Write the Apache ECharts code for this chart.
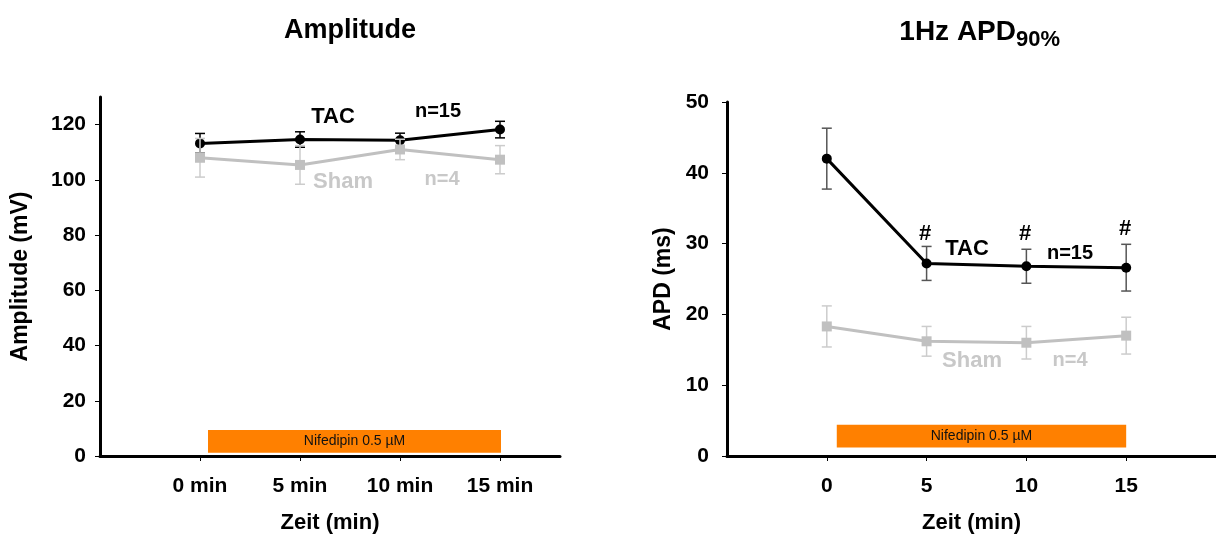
<!DOCTYPE html>
<html><head><meta charset="utf-8">
<script src="https://cdn.jsdelivr.net/npm/echarts@6/dist/echarts.min.js"></script>
<style>html,body{margin:0;padding:0;background:#fff}#c{width:1216px;height:539px}</style>
</head><body><div id="c"></div>
<script>
// ---- data ----
const minutes = [0, 5, 10, 15];
const ampXLabels = ['0 min', '5 min', '10 min', '15 min'];
const apdXLabels = ['0', '5', '10', '15'];
const ampYTicks = [0, 20, 40, 60, 80, 100, 120];
const apdYTicks = [0, 10, 20, 30, 40, 50];

const ampTAC = [113.2, 114.6, 114.3, 118.2];
const ampTACErr = [3.6, 2.8, 2.6, 3.0];
const ampSham = [108.0, 105.4, 111.0, 107.3];
const ampShamErr = [7.0, 7.0, 3.7, 5.1];

const apdTAC = [42.0, 27.2, 26.8, 26.6];
const apdTACErr = [4.3, 2.4, 2.4, 3.3];
const apdSham = [18.3, 16.2, 16.0, 17.0];
const apdShamErr = [2.9, 2.1, 2.3, 2.6];

const nifLabel = 'Nifedipin 0.5 \u00b5M';
const nifAmp = [0.4, 15.05, 1.2, 9.4];   // minutes start/end, mV bottom/top
const nifApd = [0.5, 15.0, 1.2, 4.4];    // minutes start/end, ms bottom/top

// ---- styling ----
const FONT = '"Liberation Sans", Arial, sans-serif';
const BLACK = '#000';
const GREY = '#c0c0c0';

function errData(vals, errs) {
  return minutes.map((m, i) => [m, vals[i] - errs[i], vals[i] + errs[i]]);
}
function errSeries(idx, vals, errs, color, z) {
  return {
    type: 'custom', xAxisIndex: idx, yAxisIndex: idx, z: z,
    data: errData(vals, errs), encode: {x: 0, y: [1, 2]},
    renderItem: function (params, api) {
      const x = api.value(0);
      const lo = api.coord([x, api.value(1)]);
      const hi = api.coord([x, api.value(2)]);
      const st = {stroke: color, lineWidth: 1.5};
      const c = 5;
      return {type: 'group', children: [
        {type: 'line', shape: {x1: lo[0], y1: lo[1], x2: hi[0], y2: hi[1]}, style: st},
        {type: 'line', shape: {x1: lo[0] - c, y1: lo[1], x2: lo[0] + c, y2: lo[1]}, style: st},
        {type: 'line', shape: {x1: hi[0] - c, y1: hi[1], x2: hi[0] + c, y2: hi[1]}, style: st}
      ]};
    }
  };
}
function lineSeries(idx, vals, color, symbol, size, z) {
  return {
    type: 'line', xAxisIndex: idx, yAxisIndex: idx, z: z,
    data: minutes.map((m, i) => [m, vals[i]]),
    symbol: symbol, symbolSize: size, showSymbol: true,
    lineStyle: {color: color, width: 3},
    itemStyle: {color: color, borderWidth: 0},
    animation: false
  };
}
function nifSeries(idx, r) {
  return {
    type: 'custom', xAxisIndex: idx, yAxisIndex: idx, z: 1,
    data: [r],
    renderItem: function (params, api) {
      const p1 = api.coord([api.value(0), api.value(3)]);
      const p2 = api.coord([api.value(1), api.value(2)]);
      return {type: 'group', children: [
        {type: 'rect', shape: {x: p1[0], y: p1[1], width: p2[0] - p1[0], height: p2[1] - p1[1]},
         style: {fill: '#ff8000'}},
        {type: 'text', style: {text: nifLabel, x: (p1[0] + p2[0]) / 2, y: (p1[1] + p2[1]) / 2,
          align: 'center', verticalAlign: 'middle', fontSize: 14, fontFamily: FONT, fill: '#111'}}
      ]};
    }
  };
}
function xAxis(idx, min, max, labels) {
  return {
    type: 'value', gridIndex: idx, min: min, max: max,
    splitLine: {show: false},
    axisLine: {show: true, onZero: false, lineStyle: {color: BLACK, width: 3}},
    axisTick: {show: true, length: 5, lineStyle: {color: BLACK, width: 1}, customValues: minutes},
    axisLabel: {customValues: minutes, margin: 20, fontSize: 21, fontWeight: 'bold', fontFamily: FONT, color: BLACK,
      formatter: v => labels[minutes.indexOf(v)]},
    name: 'Zeit (min)', nameLocation: 'middle', nameGap: 56,
    nameTextStyle: {fontSize: 22, fontWeight: 'bold', fontFamily: FONT, color: BLACK}
  };
}
function yAxis(idx, max, ticks, name, margin, gap) {
  return {
    type: 'value', gridIndex: idx, min: 0, max: max,
    splitLine: {show: false},
    axisLine: {show: true, onZero: false, lineStyle: {color: BLACK, width: 3}},
    axisTick: {show: true, length: 5, lineStyle: {color: BLACK, width: 1}, customValues: ticks},
    axisLabel: {customValues: ticks, margin: margin, fontSize: 21, fontWeight: 'bold', fontFamily: FONT, color: BLACK},
    name: name, nameLocation: 'middle', nameGap: gap, nameRotate: 90,
    nameTextStyle: {fontSize: 23, fontWeight: 'bold', fontFamily: FONT, color: BLACK}
  };
}
function txt(x, y, text, size, color, align) {
  return {type: 'text', x: x, y: y, z: 10, style: {text: text, fontSize: size, fontWeight: 'bold', fontFamily: FONT,
    fill: color, align: align || 'center', verticalAlign: 'middle'}};
}

const chart = echarts.init(document.getElementById('c'), null, {renderer: 'canvas'});
chart.setOption({
  animation: false,
  backgroundColor: '#fff',
  grid: [
    {left: 100, right: 656, top: 97, bottom: 82},
    {left: 727, right: 0, top: 102, bottom: 81}
  ],
  xAxis: [xAxis(0, -5, 18, ampXLabels), xAxis(1, -5, 19.5, apdXLabels)],
  yAxis: [yAxis(0, 130, ampYTicks, 'Amplitude (mV)', 14, 68), yAxis(1, 50, apdYTicks, 'APD (ms)', 18, 52)],
  series: [
    nifSeries(0, nifAmp),
    errSeries(0, ampTAC, ampTACErr, BLACK, 3),
    lineSeries(0, ampTAC, BLACK, 'circle', 10, 4),
    errSeries(0, ampSham, ampShamErr, '#cccccc', 5),
    lineSeries(0, ampSham, GREY, 'rect', 10, 6),
    nifSeries(1, nifApd),
    errSeries(1, apdTAC, apdTACErr, '#555555', 3),
    lineSeries(1, apdTAC, BLACK, 'circle', 10, 4),
    errSeries(1, apdSham, apdShamErr, '#cccccc', 5),
    lineSeries(1, apdSham, GREY, 'rect', 10, 6)
  ],
  graphic: [
    txt(350, 31, 'Amplitude', 27, BLACK),
    txt(1016, 32, '1Hz APD', 28, BLACK, 'right'),
    txt(1016, 40, '90%', 22, BLACK, 'left'),
    txt(333, 117, 'TAC', 22, BLACK),
    txt(438, 111, 'n=15', 20, BLACK),
    txt(343, 182, 'Sham', 22, '#c8c8c8'),
    txt(442, 179, 'n=4', 20, '#c8c8c8'),
    txt(967, 249, 'TAC', 22, BLACK),
    txt(1070, 253, 'n=15', 20, BLACK),
    txt(925, 234, '#', 22, BLACK),
    txt(1025, 234, '#', 22, BLACK),
    txt(1125, 229, '#', 22, BLACK)
    ,
    txt(972, 361, 'Sham', 22, '#c8c8c8'),
    txt(1070, 360, 'n=4', 20, '#c8c8c8')
  ]
});
</script></body></html>
